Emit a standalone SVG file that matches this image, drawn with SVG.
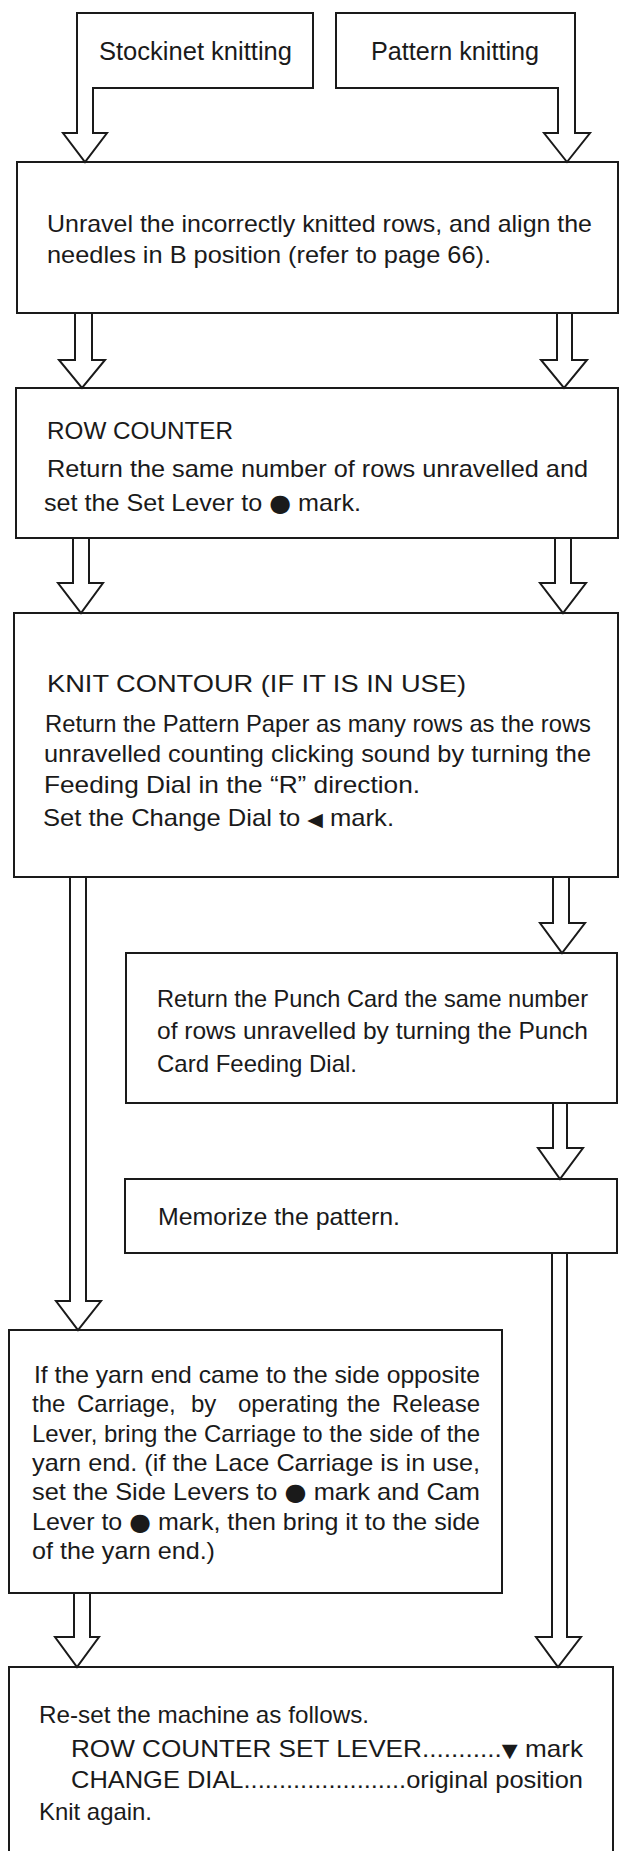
<svg xmlns="http://www.w3.org/2000/svg" width="619" height="1851" viewBox="0 0 619 1851">
<style>
.bx{fill:#fff;stroke:#1a1a1a;stroke-width:2}
.ar{fill:#fff;stroke:#1a1a1a;stroke-width:2;stroke-linejoin:miter}
text{font-family:"Liberation Sans",Arial,"DejaVu Sans",sans-serif;font-size:24px;fill:#1a1a1a}
.hd{font-size:25px}
.sym{font-family:"DejaVu Sans","Liberation Sans",sans-serif;font-size:19px}
.dot{font-family:"DejaVu Sans","Liberation Sans",sans-serif;font-size:24px}
</style>
<rect width="619" height="1851" fill="#fff"/>
<g id="nodes">
<g id="n_stockinet">
<rect class="bx" x="77" y="13" width="236" height="75"/>
<text class="hd" x="99" y="60" textLength="193" lengthAdjust="spacingAndGlyphs">Stockinet knitting</text>
</g>
<g id="n_pattern">
<rect class="bx" x="336" y="13" width="239" height="75"/>
<text class="hd" x="371" y="60" textLength="168" lengthAdjust="spacingAndGlyphs">Pattern knitting</text>
</g>
<g id="n_unravel">
<rect class="bx" x="17" y="162" width="601" height="151"/>
<text x="47" y="232" textLength="545" lengthAdjust="spacingAndGlyphs">Unravel the incorrectly knitted rows, and align the</text>
<text x="47" y="263" textLength="444" lengthAdjust="spacingAndGlyphs">needles in B position (refer to page 66).</text>
</g>
<g id="n_rowcounter">
<rect class="bx" x="16" y="388" width="602" height="150"/>
<text x="47" y="439" textLength="186" lengthAdjust="spacingAndGlyphs">ROW COUNTER</text>
<text x="47" y="477" textLength="541" lengthAdjust="spacingAndGlyphs">Return the same number of rows unravelled and</text>
<text x="44" y="511" textLength="317" lengthAdjust="spacingAndGlyphs">set the Set Lever to <tspan class="dot">●</tspan> mark.</text>
</g>
<g id="n_contour">
<rect class="bx" x="14" y="613" width="604" height="264"/>
<text x="47" y="692" textLength="419" lengthAdjust="spacingAndGlyphs">KNIT CONTOUR (IF IT IS IN USE)</text>
<text x="45" y="732" textLength="546" lengthAdjust="spacingAndGlyphs">Return the Pattern Paper as many rows as the rows</text>
<text x="44" y="762" textLength="547" lengthAdjust="spacingAndGlyphs">unravelled counting clicking sound by turning the</text>
<text x="44" y="793" textLength="376" lengthAdjust="spacingAndGlyphs">Feeding Dial in the “R” direction.</text>
<text x="43" y="826" textLength="351" lengthAdjust="spacingAndGlyphs">Set the Change Dial to <tspan class="sym">◀</tspan> mark.</text>
</g>
<g id="n_punch">
<rect class="bx" x="126" y="953" width="491" height="150"/>
<text x="157" y="1007" textLength="431" lengthAdjust="spacingAndGlyphs">Return the Punch Card the same number</text>
<text x="157" y="1039" textLength="431" lengthAdjust="spacingAndGlyphs">of rows unravelled by turning the Punch</text>
<text x="157" y="1072" textLength="200" lengthAdjust="spacingAndGlyphs">Card Feeding Dial.</text>
</g>
<g id="n_memorize">
<rect class="bx" x="125" y="1179" width="492" height="74"/>
<text x="158" y="1225" textLength="242" lengthAdjust="spacingAndGlyphs">Memorize the pattern.</text>
</g>
<g id="n_yarn">
<rect class="bx" x="9" y="1330" width="493" height="263"/>
<text x="34" y="1383" textLength="446" lengthAdjust="spacingAndGlyphs">If the yarn end came to the side opposite</text>
<text y="1412"><tspan x="32">the</tspan> <tspan x="77">Carriage,</tspan> <tspan x="191">by</tspan> <tspan x="238">operating</tspan> <tspan x="347">the</tspan> <tspan x="392">Release</tspan></text>
<text x="32" y="1442" textLength="448" lengthAdjust="spacingAndGlyphs">Lever, bring the Carriage to the side of the</text>
<text x="32" y="1471" textLength="448" lengthAdjust="spacingAndGlyphs">yarn end. (if the Lace Carriage is in use,</text>
<text x="32" y="1500" textLength="448" lengthAdjust="spacingAndGlyphs">set the Side Levers to <tspan class="dot">●</tspan> mark and Cam</text>
<text x="32" y="1530" textLength="448" lengthAdjust="spacingAndGlyphs">Lever to <tspan class="dot">●</tspan> mark, then bring it to the side</text>
<text x="32" y="1559" textLength="183" lengthAdjust="spacingAndGlyphs">of the yarn end.)</text>
</g>
<g id="n_reset">
<rect class="bx" x="9" y="1667" width="604" height="200"/>
<text x="39" y="1723" textLength="330" lengthAdjust="spacingAndGlyphs">Re-set the machine as follows.</text>
<text x="71" y="1757" textLength="512" lengthAdjust="spacingAndGlyphs">ROW COUNTER SET LEVER...........<tspan class="sym">▼</tspan> mark</text>
<text x="71" y="1788" textLength="512" lengthAdjust="spacingAndGlyphs">CHANGE DIAL.......................original position</text>
<text x="39" y="1820" textLength="113" lengthAdjust="spacingAndGlyphs">Knit again.</text>
</g>
</g>
<g id="connectors">
<path class="ar" d="M77,87 V133 H63 L85,162 L107,133 H93 V87"/>
<path class="ar" d="M558,87 V133 H544 L567,162 L590,133 H575 V87"/>
<path class="ar" d="M75,314 V360 H59 L82,388 L105,360 H92 V314"/>
<path class="ar" d="M557,314 V360 H541 L564,388 L587,360 H572 V314"/>
<path class="ar" d="M73,539 V583 H58 L81,613 L103,583 H89 V539"/>
<path class="ar" d="M555,539 V583 H540 L563,613 L586,583 H571 V539"/>
<path class="ar" d="M553,878 V923 H540 L562,953 L585,923 H569 V878"/>
<path class="ar" d="M553,1104 V1148 H538 L560,1179 L583,1148 H567 V1104"/>
<path class="ar" d="M70,878 V1301 H56 L78,1330 L101,1301 H86 V878"/>
<path class="ar" d="M552,1254 V1637 H536 L558,1667 L581,1637 H567 V1254"/>
<path class="ar" d="M74,1594 V1637 H55 L77,1667 L99,1637 H90 V1594"/>
</g>
</svg>
